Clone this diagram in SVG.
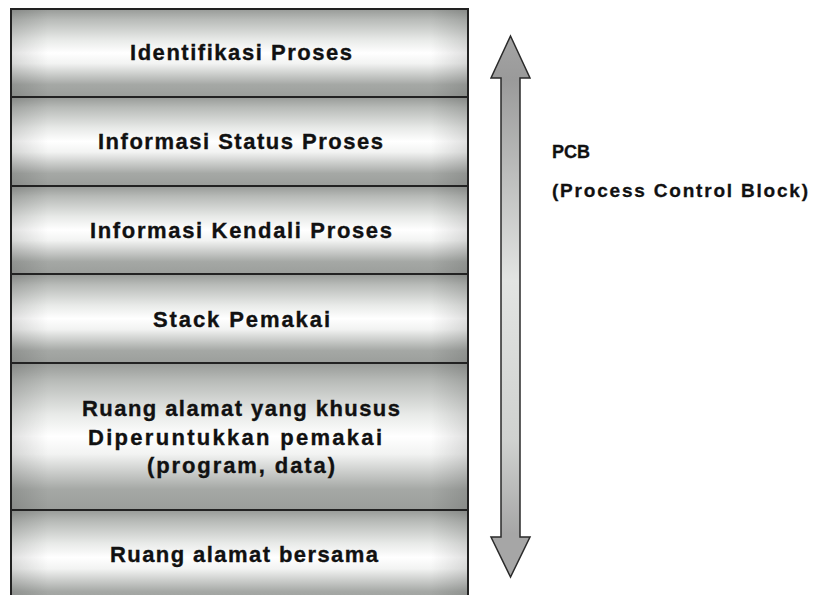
<svg xmlns="http://www.w3.org/2000/svg" width="813" height="595" viewBox="0 0 813 595">
  <style>
    .band { fill: url(#bandGrad); stroke: #222; stroke-width: 2; }
    .edge { fill: url(#edgeGrad); stroke: none; }
    .lbl { font-family: "Liberation Sans", Arial, sans-serif; font-weight: bold; font-size: 22px; fill: #111; stroke: #111; stroke-width: 0.35; }
    .side { font-family: "Liberation Sans", Arial, sans-serif; font-weight: bold; font-size: 19px; fill: #111; stroke: #111; stroke-width: 0.3; }
  </style>
  <defs>
    <linearGradient id="bandGrad" x1="0" y1="0" x2="0" y2="1">
      <stop offset="0" stop-color="#979a97"/>
      <stop offset="0.12" stop-color="#b8bbb8"/>
      <stop offset="0.35" stop-color="#e8eae8"/>
      <stop offset="0.5" stop-color="#ffffff"/>
      <stop offset="0.62" stop-color="#f2f3f2"/>
      <stop offset="0.86" stop-color="#a5a8a5"/>
      <stop offset="1" stop-color="#9b9e9b"/>
    </linearGradient>
    <linearGradient id="edgeGrad" x1="0" y1="0" x2="1" y2="0">
      <stop offset="0" stop-color="#000" stop-opacity="0.12"/>
      <stop offset="0.08" stop-color="#000" stop-opacity="0"/>
      <stop offset="0.92" stop-color="#000" stop-opacity="0"/>
      <stop offset="1" stop-color="#000" stop-opacity="0.12"/>
    </linearGradient>
    <linearGradient id="arrowGrad" gradientUnits="userSpaceOnUse" x1="0" y1="36" x2="0" y2="577">
      <stop offset="0" stop-color="#a4a4a4"/>
      <stop offset="0.08" stop-color="#9a9a9a"/>
      <stop offset="0.45" stop-color="#e2e4e2"/>
      <stop offset="0.75" stop-color="#cfd1cf"/>
      <stop offset="0.92" stop-color="#a6a6a6"/>
      <stop offset="1" stop-color="#a6a6a6"/>
    </linearGradient>
  </defs>
  <rect width="813" height="595" fill="#ffffff"/>

  <g id="identifikasi-proses">
    <rect class="band" x="11" y="9" width="457" height="88"/>
    <rect class="edge" x="12" y="10" width="455" height="86"/>
    <text class="lbl" x="130" y="60" textLength="222" lengthAdjust="spacing">Identifikasi Proses</text>
  </g>
  <g id="informasi-status-proses">
    <rect class="band" x="11" y="97" width="457" height="89"/>
    <rect class="edge" x="12" y="98" width="455" height="87"/>
    <text class="lbl" x="98" y="149" textLength="285" lengthAdjust="spacing">Informasi Status Proses</text>
  </g>
  <g id="informasi-kendali-proses">
    <rect class="band" x="11" y="186" width="457" height="88"/>
    <rect class="edge" x="12" y="187" width="455" height="86"/>
    <text class="lbl" x="90" y="238" textLength="302" lengthAdjust="spacing">Informasi Kendali Proses</text>
  </g>
  <g id="stack-pemakai">
    <rect class="band" x="11" y="274" width="457" height="89"/>
    <rect class="edge" x="12" y="275" width="455" height="87"/>
    <text class="lbl" x="153" y="327" textLength="177" lengthAdjust="spacing">Stack Pemakai</text>
  </g>
  <g id="ruang-alamat-khusus">
    <rect class="band" x="11" y="363" width="457" height="147"/>
    <rect class="edge" x="12" y="364" width="455" height="145"/>
    <text class="lbl" x="82" y="416" textLength="318" lengthAdjust="spacing">Ruang alamat yang khusus</text>
    <text class="lbl" x="88" y="445" textLength="294" lengthAdjust="spacing">Diperuntukkan pemakai</text>
    <text class="lbl" x="147" y="473" textLength="188" lengthAdjust="spacing">(program, data)</text>
  </g>
  <g id="ruang-alamat-bersama">
    <rect class="band" x="11" y="510" width="457" height="95"/>
    <rect class="edge" x="12" y="511" width="455" height="93"/>
    <text class="lbl" x="110" y="562" textLength="268" lengthAdjust="spacing">Ruang alamat bersama</text>
  </g>

  <g id="connectors">
    <polygon id="pcb-arrow" points="510.5,36 530,78 520,78 520,537 530,537 510.5,577 491,537 501,537 501,78 491,78" fill="url(#arrowGrad)" stroke="#2a2a2a" stroke-width="1.5" stroke-linejoin="miter"/>
  </g>

  <g id="pcb-label">
    <text class="side" x="552" y="158" textLength="38" lengthAdjust="spacingAndGlyphs">PCB</text>
    <text class="side" x="552" y="197" textLength="256" lengthAdjust="spacing">(Process Control Block)</text>
  </g>
</svg>
